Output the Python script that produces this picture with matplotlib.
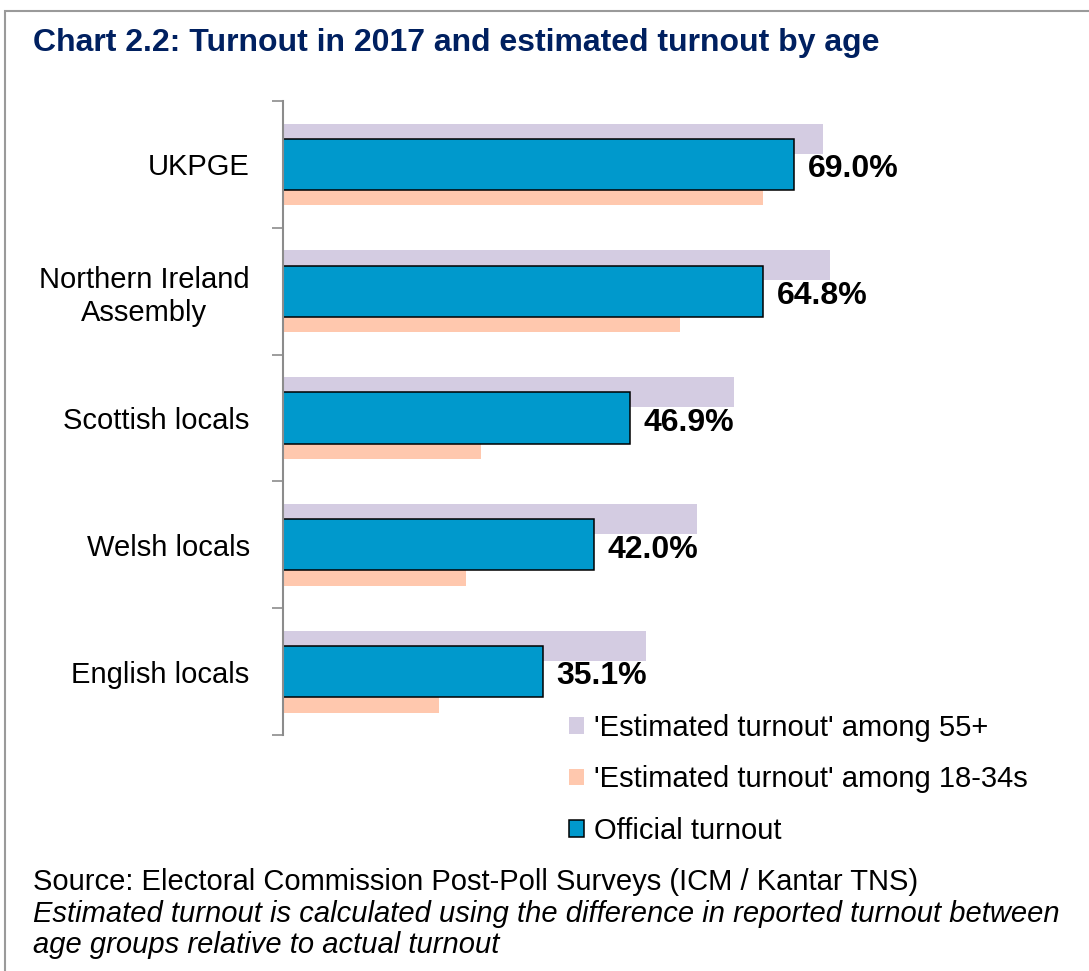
import matplotlib
matplotlib.use("Agg")
import matplotlib.pyplot as plt
from matplotlib.patches import Rectangle
import numpy as np

plt.rcParams['font.family'] = ['Liberation Sans', 'DejaVu Sans']

categories = ["UKPGE", "Northern Ireland\nAssembly", "Scottish locals", "Welsh locals", "English locals"]
official = [69.0, 64.8, 46.9, 42.0, 35.1]
est_55_plus = [73.0, 73.9, 60.9, 55.9, 49.1]
est_18_34 = [64.9, 53.7, 26.8, 24.7, 21.1]
series_labels = ["'Estimated turnout' among 55+", "'Estimated turnout' among 18-34s", "Official turnout"]

title = "Chart 2.2: Turnout in 2017 and estimated turnout by age"
source_note = "Source: Electoral Commission Post-Poll Surveys (ICM / Kantar TNS)"
method_lines = ["Estimated turnout is calculated using the difference in reported turnout between",
                "age groups relative to actual turnout"]

C_OLD = "#D4CCE2"
C_YOUNG = "#FFC8AE"
C_OFFICIAL = "#0099CC"
NAVY = "#002060"

W, H = 1089, 971
fig = plt.figure(figsize=(W / 100, H / 100), dpi=100)

# outer frame
fig.patches.append(Rectangle((5 / W, -0.1), 1.2, 1 - 11 / H + 0.1, transform=fig.transFigure,
                             fill=False, edgecolor="#9a9a9a", linewidth=1.5))

ax = fig.add_axes([283 / W, 1 - 735 / H, (875 - 283) / W, 634 / H])
y = np.arange(len(categories))

b_old = ax.barh(y - 0.203, est_55_plus, height=0.237, color=C_OLD, zorder=1, label=series_labels[0])
b_young = ax.barh(y + 0.205, est_18_34, height=0.237, color=C_YOUNG, zorder=1, label=series_labels[1])
b_off = ax.barh(y, official, height=0.405, color=C_OFFICIAL, edgecolor="black", linewidth=1.1,
                zorder=2, label=series_labels[2])

for yi, v in zip(y, official):
    ax.annotate(f"{v:.1f}%", xy=(v, yi), xytext=(10, -3.5), textcoords="offset points",
                ha="left", va="center", fontsize=23, fontweight="bold", color="black", zorder=3)

ax.set_xlim(0, 80)
ax.set_ylim(len(categories) - 0.5, -0.5)

for s in ["top", "right", "bottom"]:
    ax.spines[s].set_visible(False)
ax.spines["left"].set_color("#8c8c8c")
ax.spines["left"].set_linewidth(1.5)
ax.set_xticks([])

ax.set_yticks(np.arange(-0.5, len(categories), 1.0))
ax.set_yticklabels([])
ax.tick_params(axis="y", which="major", length=8, width=1.2, color="#8c8c8c", direction="out")
ax.set_yticks(y, minor=True)
ax.set_yticklabels(categories, minor=True, fontsize=21, multialignment="center")
ax.tick_params(axis="y", which="minor", length=0, pad=24)

leg = ax.legend(handles=[b_old, b_young, b_off], loc="upper left",
                bbox_to_anchor=(569 / W, 1 - 714 / H), bbox_transform=fig.transFigure,
                frameon=False, fontsize=21, handlelength=0.5, handleheight=0.5,
                handletextpad=0.35, labelspacing=0.8, borderpad=0, borderaxespad=0)

fig.text(33 / W, 1 - 51 / H, title, fontsize=23, fontweight="bold", color=NAVY,
         ha="left", va="baseline")
fig.text(33 / W, 1 - 890 / H, source_note, fontsize=21, color="black", ha="left", va="baseline")
for i, line in enumerate(method_lines):
    fig.text(33 / W, 1 - (922 + 31 * i) / H, line, fontsize=21, style="italic", color="black",
             ha="left", va="baseline")

fig.savefig("out.png", dpi=100)
